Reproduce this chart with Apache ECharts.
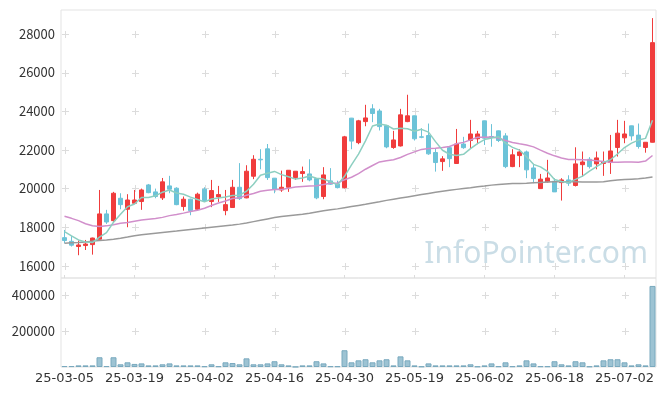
<!DOCTYPE html>
<html><head><meta charset="utf-8">
<script src="https://cdn.jsdelivr.net/npm/echarts@6/dist/echarts.min.js"></script>
<style>html,body{margin:0;padding:0;background:#fff}#c{width:665px;height:396px}</style>
</head><body><div id="c"></div>
<script>
const dates = ['25-03-05','25-03-06','25-03-07','25-03-10','25-03-11','25-03-12','25-03-13','25-03-14','25-03-17','25-03-18',
'25-03-19','25-03-20','25-03-21','25-03-24','25-03-25','25-03-26','25-03-27','25-03-28','25-03-31','25-04-01',
'25-04-02','25-04-03','25-04-04','25-04-07','25-04-08','25-04-09','25-04-10','25-04-11','25-04-14','25-04-15',
'25-04-16','25-04-17','25-04-18','25-04-21','25-04-22','25-04-23','25-04-24','25-04-25','25-04-28','25-04-29',
'25-04-30','25-05-02','25-05-07','25-05-08','25-05-09','25-05-12','25-05-13','25-05-14','25-05-15','25-05-16',
'25-05-19','25-05-20','25-05-21','25-05-22','25-05-23','25-05-26','25-05-27','25-05-28','25-05-29','25-05-30',
'25-06-02','25-06-04','25-06-05','25-06-09','25-06-10','25-06-11','25-06-12','25-06-13','25-06-16','25-06-17',
'25-06-18','25-06-19','25-06-20','25-06-23','25-06-24','25-06-25','25-06-26','25-06-27','25-06-30','25-07-01',
'25-07-02','25-07-03','25-07-04','25-07-07','25-07-08'];
const opens = [17450,17260,16990,17040,17090,17370,18680,18330,19490,18920,
19230,19320,20180,19820,19510,20130,20010,19060,19440,18920,
19960,19320,19560,18850,19010,20060,19510,20630,21510,22050,
20530,19920,20060,20560,20770,20750,20510,19580,20390,20230,
20040,23640,22370,23460,24120,24010,23250,22120,22200,23460,
23760,22670,22740,21860,21390,22110,21290,22300,22480,22570,
23500,22690,22980,22720,21130,21700,21890,21060,19990,20340,
20370,20300,20440,20150,21230,21510,21270,21290,21340,22120,
22620,23240,22760,22120,22390];
const closes = [17300,17060,17070,17120,17430,18680,18260,19750,19160,19400,
19400,19920,19780,19580,20340,19960,19160,19440,18850,19700,
19370,19890,19680,19160,20060,19470,20890,21510,21480,20560,
19960,20060,20940,20890,20870,20440,19510,20700,20220,20040,
22670,22450,23500,23650,23880,23200,22150,22510,23810,23760,
22570,22650,21790,21340,21530,21540,22300,22110,22820,22820,
22600,22680,22480,21130,21740,21890,20960,20510,20480,20540,
19820,20440,20270,21270,21370,21130,21580,21390,21940,22860,
22820,22720,22170,22390,27550];
const lows = [17160,16990,16540,16810,16570,17360,18160,18260,18920,17990,
19200,18890,19750,19490,19400,19750,19130,18850,18610,18850,
19300,19030,19300,18610,19000,19400,19490,20480,20990,20440,
19750,19820,19820,20440,20340,20370,19440,19440,20180,20000,
20000,22030,22290,23220,23430,23000,22080,22050,22170,23430,
22480,22600,21740,20870,20910,21100,21280,22050,22090,22290,
22250,22160,22400,21050,21100,21100,20530,20270,19990,20300,
19820,19370,20130,20100,20610,21030,20990,20650,20750,21650,
22340,22480,22060,21850,22380];
const highs = [17850,17540,17300,17330,17450,19920,18890,19820,19750,19700,
19920,19990,20230,19990,20540,20650,20060,19580,19470,19780,
20060,20440,20130,19920,20440,21310,21200,21720,22030,22300,
20540,20920,20950,20900,21130,21510,20520,21100,21050,20400,
22720,23650,23550,24330,24360,24120,23260,22980,24120,24850,
23770,23120,23360,22080,21670,22200,23080,22670,23550,22980,
23510,23330,23000,22860,22030,22030,21960,21270,20750,21480,
20530,20530,20680,22130,21910,21620,21910,21910,22770,23550,
23500,23250,23360,22400,28820];
const volumes = [5000,5000,9000,9000,9000,54000,5000,54000,15000,26000,
17000,20000,9000,9000,15000,20000,9000,9000,9000,9000,
4000,15000,4000,26000,22000,15000,48000,15000,15000,20000,
32000,15000,9000,1000,9000,9000,32000,20000,4000,4000,
93000,26000,37000,43000,26000,37000,43000,9000,59000,37000,
9000,3000,20000,9000,9000,9000,9000,9000,15000,3000,
9000,20000,4000,26000,4000,9000,37000,20000,4000,4000,
32000,15000,9000,32000,26000,3000,9000,37000,43000,43000,
26000,9000,15000,9000,450000];
const ma5Head = [17760,17540,17330,17220];
const ma20Head = [18560,18450,18330,18170,18070,18030,18060,18120,18190,18240,
18300,18360,18400,18440,18500,18590,18650,18720,18800];
const maLong = [17160,17180,17200,17230,17270,17300,17330,17370,17420,17480,
17550,17600,17640,17680,17720,17760,17790,17830,17870,17910,
17950,17990,18030,18070,18100,18150,18210,18280,18350,18420,
18490,18540,18580,18620,18660,18710,18780,18840,18890,18940,
19000,19060,19120,19180,19250,19310,19380,19440,19500,19560,
19620,19680,19740,19800,19850,19900,19950,19990,20030,20080,
20120,20170,20200,20230,20250,20260,20270,20290,20310,20330,
20340,20340,20340,20340,20330,20330,20330,20340,20400,20440,
20460,20480,20500,20540,20590];
const priceTicks = [16000,18000,20000,22000,24000,26000,28000];
const volumeTicks = [200000,400000];
const labelEvery = 10;

function movingAvg(n, head) {
  return closes.map((c, i) => {
    if (i < n - 1) return head[i];
    let s = 0;
    for (let k = i - n + 1; k <= i; k++) s += closes[k];
    return Math.round(s / n);
  });
}
const ma5 = movingAvg(5, ma5Head);
const ma20 = movingAvg(20, ma20Head);
const candleData = dates.map((d, i) => [opens[i], closes[i], lows[i], highs[i]]);

function crossSeries(gi, ticks) {
  const data = [];
  for (let i = 0; i < dates.length; i += labelEvery) for (const v of ticks) data.push([i, v]);
  return {
    type: 'custom', xAxisIndex: gi, yAxisIndex: gi, silent: true, z: 1, data,
    encode: {x: 0, y: 1},
    renderItem(params, api) {
      const p = api.coord([api.value(0), api.value(1)]);
      const x = Math.round(p[0]) + 0.5, y = Math.round(p[1]) + 0.5;
      return {type: 'group', children: [
        {type: 'line', shape: {x1: x - 3.5, y1: y, x2: x + 3.5, y2: y}, style: {stroke: '#dcdcdc', lineWidth: 1}},
        {type: 'line', shape: {x1: x, y1: y - 3.5, x2: x, y2: y + 3.5}, style: {stroke: '#dcdcdc', lineWidth: 1}}
      ]};
    }
  };
}

const FONT = '"Noto Sans CJK KR", "Noto Sans", sans-serif';
const chart = echarts.init(document.getElementById('c'));
chart.setOption({
  animation: false,
  backgroundColor: '#fff',
  grid: [
    {left: 61, right: 9, top: 10, height: 268, show: true, borderColor: '#e3e3e3', borderWidth: 1},
    {left: 61, right: 9, top: 278, height: 89, show: true, borderColor: '#e3e3e3', borderWidth: 1}
  ],
  xAxis: [
    {type: 'category', data: dates, gridIndex: 0, boundaryGap: true,
     axisLine: {show: false},
     axisTick: {show: true, inside: true, length: 3, interval: labelEvery - 1, alignWithLabel: true, lineStyle: {color: '#dcdcdc'}},
     axisLabel: {show: false}, splitLine: {show: false}},
    {type: 'category', data: dates, gridIndex: 1, boundaryGap: true,
     axisLine: {show: false}, axisTick: {show: false},
     axisLabel: {interval: labelEvery - 1, color: '#333', fontSize: 13, margin: 5, fontFamily: '"DejaVu Sans", sans-serif'},
     splitLine: {show: false}}
  ],
  yAxis: [
    {type: 'value', gridIndex: 0, min: 15360, max: 29240, splitNumber: 7,
     axisLine: {show: false}, axisTick: {show: false}, splitLine: {show: false},
     axisLabel: {showMinLabel: false, showMaxLabel: false, color: '#333', fontSize: 13, margin: 6, fontFamily: FONT,
                 formatter: v => String(v)}},
    {type: 'value', gridIndex: 1, min: 0, max: 494000, splitNumber: 2,
     axisLine: {show: false}, axisTick: {show: false}, splitLine: {show: false},
     axisLabel: {showMinLabel: false, showMaxLabel: false, color: '#333', fontSize: 13, margin: 6, fontFamily: FONT,
                 formatter: v => String(v)}}
  ],
  graphic: [
    {type: 'text', right: 17, top: 239, z: 0, silent: true,
     style: {text: 'InfoPointer.com', font: '30px "Noto Sans"', fill: '#cadde6'}}
  ],
  series: [
    crossSeries(0, priceTicks),
    crossSeries(1, volumeTicks),
    {type: 'candlestick', xAxisIndex: 0, yAxisIndex: 0, data: candleData, barWidth: 5, z: 3,
     itemStyle: {color: '#f03c3c', color0: '#6cc3d8', borderColor: '#f03c3c', borderColor0: '#6cc3d8', borderWidth: 1}},
    {type: 'line', xAxisIndex: 0, yAxisIndex: 0, data: maLong, symbol: 'none', z: 4,
     lineStyle: {color: '#9a9a9a', width: 1.5}},
    {type: 'line', xAxisIndex: 0, yAxisIndex: 0, data: ma20, symbol: 'none', z: 4,
     lineStyle: {color: '#d18fcb', width: 1.5}},
    {type: 'line', xAxisIndex: 0, yAxisIndex: 0, data: ma5, symbol: 'none', z: 4,
     lineStyle: {color: '#8dcfc1', width: 1.5}},
    {type: 'bar', xAxisIndex: 1, yAxisIndex: 1, data: volumes, barWidth: 6, z: 3,
     itemStyle: {color: '#9dc3d3', borderColor: '#79a9be', borderWidth: 1}}
  ]
});
</script></body></html>
